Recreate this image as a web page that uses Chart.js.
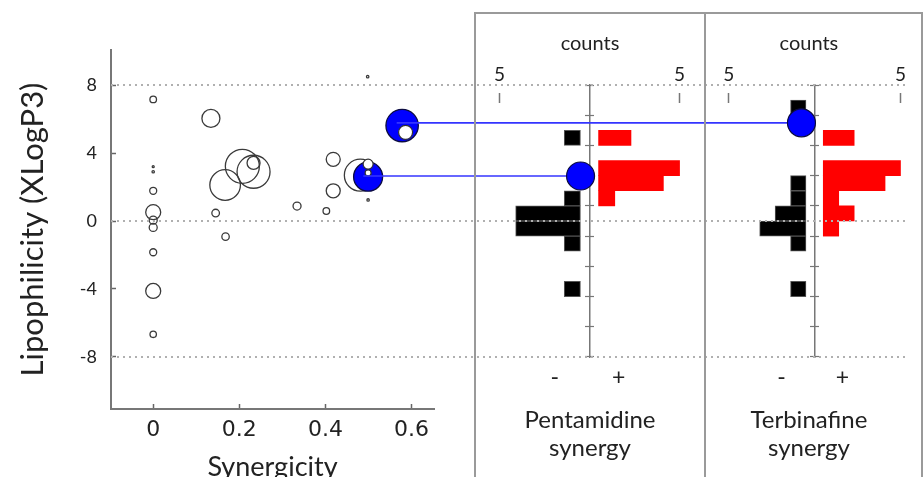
<!DOCTYPE html>
<html><head><meta charset="utf-8">
<script src="https://cdn.jsdelivr.net/npm/chart.js@4.4.1/dist/chart.umd.min.js"></script>
<style>
html,body{margin:0;padding:0;background:#fff;overflow:hidden;width:923px;height:477px;}
canvas{position:absolute;top:0;}
#cA{left:0;z-index:1}
#cB{left:475px;z-index:1}
#cC{left:705px;z-index:1}
#cO{left:0;z-index:2;pointer-events:none}
.box{position:absolute;top:12px;height:480px;border:2px solid #9a9a9a;border-bottom:none;z-index:3;pointer-events:none;box-sizing:border-box}
</style></head><body>
<canvas id="cA" width="475" height="495"></canvas>
<canvas id="cB" width="230" height="477"></canvas>
<canvas id="cC" width="218" height="477"></canvas>
<canvas id="cO" width="923" height="477"></canvas>
<div class="box" style="left:474px;width:232px"></div>
<div class="box" style="left:706px;width:217px;border-left:none"></div>
<script>
// ---------- scatter (bubble) data ----------
const synergicity  = [0.498, 0.000, 0.134, 0.000, 0.000, 0.207, 0.233, 0.233, 0.167, 0.000, 0.000, 0.000, 0.000, 0.000, 0.000, 0.000, 0.145, 0.168, 0.334, 0.402, 0.418, 0.418, 0.481, 0.499];
const xlogp        = [8.50, 7.16, 6.04, 3.20, 2.90, 3.22, 2.90, 3.42, 2.12, 1.78, 0.52, 0.05, -0.38, -1.84, -4.12, -6.67, 0.47, -0.92, 0.88, 0.59, 3.63, 1.78, 2.70, 1.24];
const bubbleSize   = [1.2, 3.3, 9, 1.0, 1.2, 17, 16.5, 6.5, 15.3, 3.5, 7.5, 4, 4, 3.5, 7.5, 3.2, 3.8, 3.7, 4, 3.3, 7, 7, 16, 1.2];

// highlighted compounds (blue) and the values they link to in the panels
const hlSynergicity = [0.578, 0.499];
const hlXlogp       = [5.62, 2.61];
const hlSize        = [16.2, 14.5];
const hlPanel       = ['terbinafine', 'pentamidine'];
const hlPanelXlogp  = [5.78, 2.65];

// small white compounds on top of the blue ones
const innerSynergicity = [0.586, 0.499, 0.499];
const innerXlogp       = [5.22, 3.35, 2.83];
const innerSize        = [7, 5, 3];

// ---------- histogram data (bins of XLogP3 width 1, given by their centres) ----------
const pentBins = [5.5, 3.5, 2.5, 1.5, 0.5, -0.5, -1.5, -4.5];
const pentNeg  = [1,   0,   0,   1,   4,   4,    1,    1];
const pentPos  = [2,   5,   4,   1,   0,   0,    0,    0];
const terbBins = [7.5, 5.5, 3.5, 2.5, 1.5, 0.5, -0.5, -1.5, -4.5];
const terbNeg  = [1,   0,   0,   1,   1,   2,   3,    1,    1];
const terbPos  = [0,   2,   5,   4,   1,   2,   1,    0,    0];

const countTickValues = [5];
const signLabels = ['-', '+'];
const yTickStep = 4;

// ---------- styling / layout constants ----------
const FONT = 'Lato, "Open Sans", sans-serif';
const TXT = '#222';
const GAP = 0.56;                 // gap (count units) between centre axis and bars
const SIGN_POS = [-2.15, 1.8];    // horizontal placement of the - / + labels (count units)
const Y_MIN = -11.07, Y_MAX = 10.07;
const X_MIN = -0.098, X_MAX = 0.652;

Chart.defaults.font.family = FONT;
const noPlug = {legend:{display:false}, tooltip:{enabled:false}};

// ---------- chart A: scatter ----------
const chartA = new Chart(document.getElementById('cA'), {
  type: 'bubble',
  data: { datasets: [
    { data: innerSynergicity.map((x,i)=>({x, y: innerXlogp[i], r: innerSize[i]})),
      backgroundColor:'#ffffff', borderColor:'#333', borderWidth:1.2, order:0 },
    { data: hlSynergicity.map((x,i)=>({x, y: hlXlogp[i], r: hlSize[i]})),
      backgroundColor:'#0000ff', borderColor:'#0c0c40', borderWidth:1.3, order:1 },
    { data: synergicity.map((x,i)=>({x, y: xlogp[i], r: bubbleSize[i]})),
      backgroundColor:'rgba(255,255,255,0)', borderColor:'#3a3a3a', borderWidth:1.3, order:2 }
  ]},
  options: {
    responsive:false, animation:false, events:[],
    layout:{padding:{left:0, top:50, right:41, bottom:0}},
    plugins: noPlug,
    scales:{
      x:{ type:'linear', min:X_MIN, max:X_MAX, afterFit:s=>{s.height=86;},
          ticks:{stepSize:0.2, includeBounds:false, font:{family:'DejaVu Sans', size:22}, color:TXT, padding:13, maxRotation:0},
          grid:{drawOnChartArea:false, drawTicks:true, tickLength:-5, tickColor:'#666', tickWidth:1.5},
          border:{display:true, color:'#777', width:2},
          title:{display:true, text:'Synergicity', font:{family:FONT, size:27}, color:TXT, padding:{top:0, bottom:12}} },
      y:{ type:'linear', min:Y_MIN, max:Y_MAX, afterFit:s=>{s.width=111;},
          ticks:{stepSize:yTickStep, includeBounds:false, font:{family:FONT, size:18}, color:TXT, padding:19},
          grid:{drawOnChartArea:false, drawTicks:true, tickLength:-5, tickColor:'#666', tickWidth:1.5},
          border:{display:true, color:'#777', width:2},
          title:{display:true, text:'Lipophilicity (XLogP3)', font:{family:FONT, size:31}, color:TXT, padding:{top:14, bottom:0}} }
    }
  }
});

// ---------- charts B, C: histogram panels ----------
function panel(id, bins, neg, pos, xmin, xmax, title){
  const common = {grouped:false, barPercentage:1, categoryPercentage:1, clip:false, xAxisID:'x', yAxisID:'y'};
  return new Chart(document.getElementById(id), {
    type:'bar',
    data:{ datasets:[
      Object.assign({ data: bins.map((b,i)=>({y:b, x:[-GAP, -GAP-neg[i]]})).filter((d,i)=>neg[i]>0),
        backgroundColor:'#000000', borderColor:'#555', borderWidth:1, borderSkipped:false }, common),
      Object.assign({ data: bins.map((b,i)=>({y:b, x:[GAP, GAP+pos[i]]})).filter((d,i)=>pos[i]>0),
        backgroundColor:'#ff0000', borderWidth:0 }, common)
    ]},
    options:{
      indexAxis:'y', responsive:false, animation:false, events:[],
      layout:{padding:0},
      plugins: noPlug,
      scales:{
        x:{ type:'linear', axis:'x', position:'top', min:xmin, max:xmax, afterFit:s=>{s.height=85;},
            afterBuildTicks:s=>{ s.ticks = countTickValues.flatMap(v=>[-(v+GAP), v+GAP]).map(v=>({value:v})); },
            ticks:{callback:v=>String(Math.round(Math.abs(v)-GAP)), font:{family:FONT, size:19}, color:TXT, padding:17, autoSkip:false, maxRotation:0},
            grid:{drawOnChartArea:false, drawTicks:true, tickLength:-18, tickColor:'#777', tickWidth:1.5, tickBorderDash:[10,60]},
            border:{display:false},
            title:{display:true, text:'counts', font:{family:FONT, size:20}, color:TXT, padding:{top:32, bottom:0}} },
        xb:{ type:'linear', axis:'x', position:'bottom', min:xmin, max:xmax, afterFit:s=>{s.height=120;},
            afterBuildTicks:s=>{ s.ticks = SIGN_POS.map(v=>({value:v})); },
            ticks:{callback:(v,i)=>signLabels[i], font:{family:FONT, size:23}, color:TXT, padding:7, autoSkip:false, maxRotation:0},
            grid:{display:false, drawTicks:false},
            border:{display:false},
            title:{display:true, text:title, font:{family:FONT, size:24, lineHeight:1.15}, color:TXT, padding:{top:0, bottom:15}} },
        y:{ type:'linear', axis:'y', position:{x:0}, min:-8, max:8, afterFit:s=>{s.width=0;},
            ticks:{display:false, stepSize:2},
            grid:{drawOnChartArea:false, drawTicks:true, tickLength:4, tickColor:'#777', tickWidth:1.2},
            border:{display:true, color:'#777', width:1.5} },
        y2:{ type:'linear', axis:'y', position:{x:0}, min:-8, max:8, afterFit:s=>{s.width=0;},
            ticks:{display:false, stepSize:2},
            grid:{drawOnChartArea:false, drawTicks:true, tickLength:-4, tickColor:'#777', tickWidth:1.2},
            border:{display:false} }
      }
    }
  });
}
const chartB = panel('cB', pentBins, pentNeg, pentPos, -7.07, 7.13, ['Pentamidine','synergy']);
const chartC = panel('cC', terbBins, terbNeg, terbPos, -7.1, 6.36, ['Terbinafine','synergy']);

// ---------- overlay: dotted guide lines, links and panel markers ----------
const oCanvas = document.getElementById('cO');
const oLeft = oCanvas.getBoundingClientRect().left;
const panels = {pentamidine: chartB, terbinafine: chartC};
function panelCentre(name){
  const ch = panels[name];
  const px = ch.canvas.getBoundingClientRect().left - oLeft + ch.scales.x.getPixelForValue(0);
  return chartA.scales.x.getValueForPixel(px);
}
const oXmax = chartA.scales.x.getValueForPixel(oCanvas.width);
const linkDatasets = hlSynergicity.map((x,i)=>({
  type:'line', data:[{x, y:hlPanelXlogp[i]}, {x:panelCentre(hlPanel[i]), y:hlPanelXlogp[i]}],
  borderColor:'#3434ff', borderWidth:1.6, pointRadius:0, order:1
}));
new Chart(oCanvas, {
  type:'line',
  data:{ datasets:[
    { type:'bubble', data: hlPanel.map((p,i)=>({x:panelCentre(p), y:hlPanelXlogp[i], r:14})),
      backgroundColor:'#0000ff', borderColor:'#0c0c40', borderWidth:1.2, order:0 },
    ...linkDatasets
  ]},
  options:{
    responsive:false, animation:false, events:[],
    layout:{padding:{left:111, top:50, right:0, bottom:68}},
    plugins: noPlug,
    scales:{
      x:{ type:'linear', display:false, min:X_MIN, max:oXmax },
      y:{ type:'linear', min:Y_MIN, max:Y_MAX, afterFit:s=>{s.width=0;},
          ticks:{display:false, stepSize:8, includeBounds:false},
          grid:{drawTicks:false, color:'#b0b0b0', lineWidth:2},
          border:{display:false, dash:[2,4]} }
    }
  }
});
</script>
</body></html>
